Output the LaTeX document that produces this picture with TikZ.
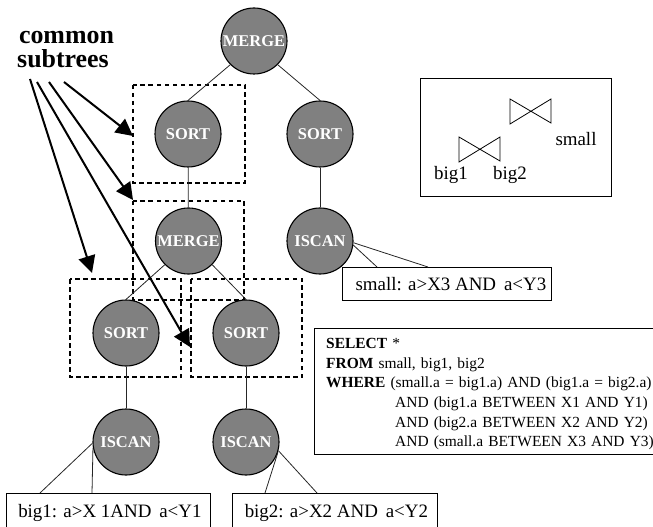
\documentclass[tikz,border=0pt]{standalone}
\usepackage{fontspec}
\setmainfont{Liberation Serif}
\usetikzlibrary{arrows.meta}
\tikzset{
	opnode/.style={circle,draw=black,line width=1.1bp,fill=black!50,text=white,minimum size=66bp,inner sep=0pt,font=\fontsize{16.5}{16.5}\selectfont\bfseries},
	link/.style={draw=black!85,line width=0.8bp},
	subtree/.style={draw=black,line width=1.3bp,dash pattern=on 4.5bp off 3.5bp},
	bigarrow/.style={draw=black,line width=2bp,-{Triangle[length=17bp,width=17bp]}},
	predbox/.style={draw=black,line width=0.8bp,fill=white,anchor=north west,inner sep=0pt,minimum height=40bp,font=\fontsize{19}{19}\selectfont},
	plan/.style={font=\fontsize{19}{19}\selectfont}
}
\begin{document}
\begin{tikzpicture}[x=1bp,y=-1bp]
	\useasboundingbox (0,0) rectangle (653,527);
	% dashed regions
	\draw[subtree] (133,85) rectangle (245,183);
	\draw[subtree] (133,201) rectangle (244,300);
	\draw[subtree] (70,279) rectangle (181,377);
	\draw[subtree] (191,279) rectangle (302,377);
	% operators
	\node[opnode] (merge1) at (254,41) {MERGE};
	\node[opnode] (sort1) at (188,134) {SORT};
	\node[opnode] (sort2) at (320,134) {SORT};
	\node[opnode] (merge2) at (188.5,241) {MERGE};
	\node[opnode] (iscan3) at (320,241) {ISCAN};
	\node[opnode] (sort3) at (126,333) {SORT};
	\node[opnode] (sort4) at (246,333) {SORT};
	\node[opnode] (iscan1) at (126,442) {ISCAN};
	\node[opnode] (iscan2) at (246,442) {ISCAN};
	\draw[link] (merge1.225) -- (sort1.north);
	\draw[link] (merge1.-45) -- (sort2.north);
	\draw[link] (sort1) -- (merge2);
	\draw[link] (sort2) -- (iscan3);
	\draw[link] (merge2.225) -- (sort3.north);
	\draw[link] (merge2.-45) -- (sort4.north);
	\draw[link] (sort3) -- (iscan1);
	\draw[link] (sort4) -- (iscan2);
	% predicates
	\node[predbox,minimum width=204bp] (pred1) at (6,493) {\hspace*{3bp}big1: a>X 1AND\, a<Y1};
	\node[predbox,minimum width=205bp] (pred2) at (232,493) {\hspace*{3bp}big2: a>X2 AND\, a<Y2};
	\node[predbox,minimum width=209bp,minimum height=33bp] (pred3) at (342,267) {\hspace*{8bp}small: a>X3 AND\, a<Y3};
	\coordinate (c1a) at (40,493);
	\coordinate (c1b) at (92,493);
	\coordinate (c2a) at (265,493);
	\coordinate (c2b) at (317,493);
	\coordinate (c3a) at (428,267);
	\coordinate (c3b) at (377,267);
	\draw[link] (iscan1.182) -- (c1a);
	\draw[link] (iscan1.-170) -- (c1b);
	\draw[link] (iscan2.-18) -- (c2a);
	\draw[link] (iscan2.-15) -- (c2b);
	\draw[link] (iscan3.-3) -- (c3a);
	\draw[link] (iscan3.-7) -- (c3b);
	% join tree
	\node[draw=black,line width=0.8bp,minimum width=191bp,minimum height=118bp,anchor=north west] (joinbox) at (420,78) {};
	\draw[link,draw=black] (510,99) -- (551,123) -- (551,99) -- (510,124) -- cycle;
	\draw[link,draw=black] (459,137) -- (500,161) -- (500,137) -- (459,162) -- cycle;
	\node[plan] (lbl1) at (451,175) {big1};
	\node[plan] (lbl2) at (510,175) {big2};
	\node[plan] (lbl3) at (576,139) {small};
	% query
	\node[draw=black,line width=0.8bp,minimum width=345bp,minimum height=126bp,anchor=north west] (querybox) at (314,328) {};
	\node[anchor=north west,inner sep=0pt,font=\fontsize{15.5}{19.6}\selectfont,text width=345bp,align=left] (query) at (326,338.5) {\textbf{SELECT} *\\
		\textbf{FROM} small, big1, big2\\
		\textbf{WHERE} (small.a = big1.a) AND (big1.a = big2.a)\\
		\hspace*{69bp}AND (big1.a BETWEEN X1 AND Y1)\\
		\hspace*{69bp}AND (big2.a BETWEEN X2 AND Y2)\\
		\hspace*{69bp}AND (small.a BETWEEN X3 AND Y3)};
	% label and arrows
	\node[align=center,font=\fontsize{26}{24}\selectfont\bfseries] (common) at (63,49.5) {\hspace*{7bp}common\\subtrees};
	\coordinate (s1) at (64,82);
	\coordinate (s2) at (49,82);
	\coordinate (s3) at (37,82);
	\coordinate (s4) at (30,79);
	\coordinate (t1) at (133,136);
	\coordinate (t2) at (133,200);
	\coordinate (t3) at (190,347);
	\coordinate (t4) at (92,273);
	\draw[bigarrow] (s1) -- (t1);
	\draw[bigarrow] (s2) -- (t2);
	\draw[bigarrow] (s3) -- (t3);
	\draw[bigarrow] (s4) -- (t4);
\end{tikzpicture}
\end{document}
